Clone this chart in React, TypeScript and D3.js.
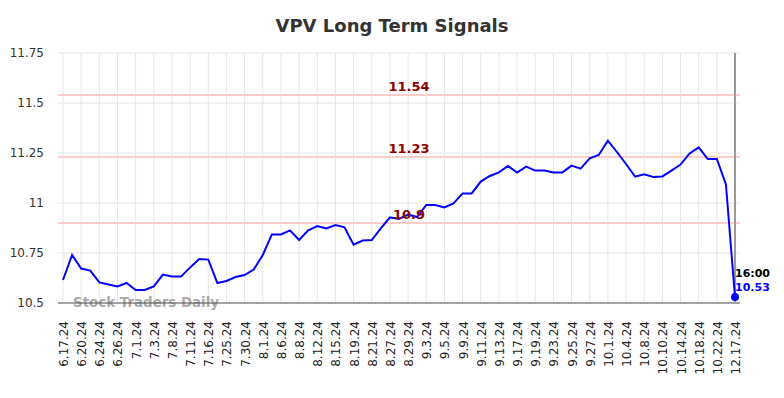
import React, { useEffect, useRef } from 'react';
import * as d3 from 'd3';

// tick labels shown on the x axis (every other trading day)
const tickLabels = [
  '6.17.24', '6.20.24', '6.24.24', '6.26.24', '7.1.24', '7.3.24', '7.8.24', '7.11.24',
  '7.16.24', '7.25.24', '7.30.24', '8.1.24', '8.6.24', '8.8.24', '8.12.24', '8.15.24',
  '8.19.24', '8.21.24', '8.27.24', '8.29.24', '9.3.24', '9.5.24', '9.9.24', '9.11.24',
  '9.13.24', '9.17.24', '9.19.24', '9.23.24', '9.25.24', '9.27.24', '10.1.24', '10.4.24',
  '10.8.24', '10.10.24', '10.14.24', '10.18.24', '10.22.24', '12.17.24',
];

// closing prices, one per point
const prices = [
  10.615, 10.74, 10.672, 10.662, 10.603, 10.593, 10.583, 10.6, 10.565, 10.565,
  10.583, 10.642, 10.632, 10.632, 10.678, 10.72, 10.717, 10.6, 10.61, 10.63,
  10.64, 10.667, 10.74, 10.843, 10.843, 10.863, 10.815, 10.863, 10.885, 10.873,
  10.89, 10.878, 10.792, 10.812, 10.815, 10.873, 10.928, 10.92, 10.942, 10.93,
  10.99, 10.99, 10.978, 10.998, 11.048, 11.048, 11.107, 11.135, 11.153, 11.185,
  11.152, 11.182, 11.162, 11.162, 11.153, 11.153, 11.187, 11.172, 11.223, 11.24,
  11.312, 11.255, 11.195, 11.132, 11.143, 11.13, 11.133, 11.162, 11.192, 11.248,
  11.278, 11.22, 11.22, 11.093, 10.53,
];

const signalLevels = [11.54, 11.23, 10.9];
const yTicks = [10.5, 10.75, 11, 11.25, 11.5, 11.75];
const lastTime = '16:00';

const App = () => {
  const ref = useRef<SVGSVGElement | null>(null);

  useEffect(() => {
    const svg = d3.select(ref.current);
    svg.selectAll('*').remove();

    const width = 784;
    const height = 398;
    const left = 63;
    const right = 735;
    const top = 53;
    const bottom = 303;
    const font = 'DejaVu Sans, sans-serif';

    const x = d3.scaleLinear().domain([0, prices.length - 1]).range([left, right]);
    const y = d3.scaleLinear().domain([10.5, 11.75]).range([bottom, top]);

    svg.append('rect').attr('width', width).attr('height', height).attr('fill', '#fff');

    // grid
    const tickIdx = tickLabels.map((_, i) => Math.min(i * 2, prices.length - 1));
    svg.append('g')
      .selectAll('line')
      .data(tickIdx)
      .enter().append('line')
      .attr('x1', d => x(d)).attr('x2', d => x(d))
      .attr('y1', top).attr('y2', bottom)
      .attr('stroke', '#e6e6e6').attr('stroke-width', 1);

    svg.append('g')
      .selectAll('line')
      .data(yTicks)
      .enter().append('line')
      .attr('x1', left - 5).attr('x2', right + 5)
      .attr('y1', d => y(d)).attr('y2', d => y(d))
      .attr('stroke', '#e6e6e6').attr('stroke-width', 1);

    // y labels
    svg.append('g')
      .selectAll('text')
      .data(yTicks)
      .enter().append('text')
      .attr('x', 44)
      .attr('y', d => y(d) + 4)
      .attr('text-anchor', 'end')
      .style('font-family', font)
      .style('font-size', '12px')
      .style('fill', '#333')
      .text(d => String(d));

    // signal lines
    svg.append('g')
      .selectAll('line')
      .data(signalLevels)
      .enter().append('line')
      .attr('x1', left - 5).attr('x2', right + 5)
      .attr('y1', d => y(d)).attr('y2', d => y(d))
      .attr('stroke', '#ffcccc').attr('stroke-width', 2);

    // watermark
    svg.append('text')
      .attr('x', 73).attr('y', 307)
      .style('font-family', font)
      .style('font-size', '13.4px')
      .style('font-weight', 'bold')
      .style('fill', '#aaa')
      .text('Stock Traders Daily');

    // axis lines
    svg.append('line')
      .attr('x1', left - 5).attr('x2', right + 5)
      .attr('y1', bottom).attr('y2', bottom)
      .attr('stroke', '#555').attr('stroke-width', 1);
    svg.append('line')
      .attr('x1', right).attr('x2', right)
      .attr('y1', top).attr('y2', bottom)
      .attr('stroke', '#999').attr('stroke-width', 2);

    // price line
    const line = d3.line<number>().x((_, i) => x(i)).y(d => y(d));
    svg.append('path')
      .datum(prices)
      .attr('d', line)
      .attr('fill', 'none')
      .attr('stroke', '#0000ff')
      .attr('stroke-width', 2);

    // signal labels
    svg.append('g')
      .selectAll('text')
      .data(signalLevels)
      .enter().append('text')
      .attr('x', 409)
      .attr('y', d => y(d) - 4)
      .attr('text-anchor', 'middle')
      .style('font-family', font)
      .style('font-size', '13px')
      .style('font-weight', 'bold')
      .style('fill', '#8b0000')
      .text(d => String(d));

    // last point
    const last = prices.length - 1;
    svg.append('circle')
      .attr('cx', x(last)).attr('cy', y(prices[last]))
      .attr('r', 4).attr('fill', '#0000ff');
    svg.append('text')
      .attr('x', x(last)).attr('y', y(prices[last]) - 20)
      .style('font-family', font).style('font-size', '11px').style('font-weight', 'bold')
      .style('fill', '#000')
      .text(lastTime);
    svg.append('text')
      .attr('x', x(last)).attr('y', y(prices[last]) - 6)
      .style('font-family', font).style('font-size', '11px').style('font-weight', 'bold')
      .style('fill', '#0000ff')
      .text(String(prices[last]));

    // x labels
    svg.append('g')
      .selectAll('text')
      .data(tickLabels)
      .enter().append('text')
      .attr('transform', (_, i) => `translate(${x(tickIdx[i]) + 5},321) rotate(-90)`)
      .attr('text-anchor', 'end')
      .style('font-family', font)
      .style('font-size', '12px')
      .style('fill', '#222')
      .text(d => d);

    // title
    svg.append('text')
      .attr('x', width / 2).attr('y', 32)
      .attr('text-anchor', 'middle')
      .style('font-family', font)
      .style('font-size', '18px')
      .style('font-weight', 'bold')
      .style('fill', '#333')
      .text('VPV Long Term Signals');
  }, []);

  return (
    <svg ref={ref} width={784} height={398} style={{ position: 'absolute', left: 0, top: 0 }} />
  );
};

export default App;
